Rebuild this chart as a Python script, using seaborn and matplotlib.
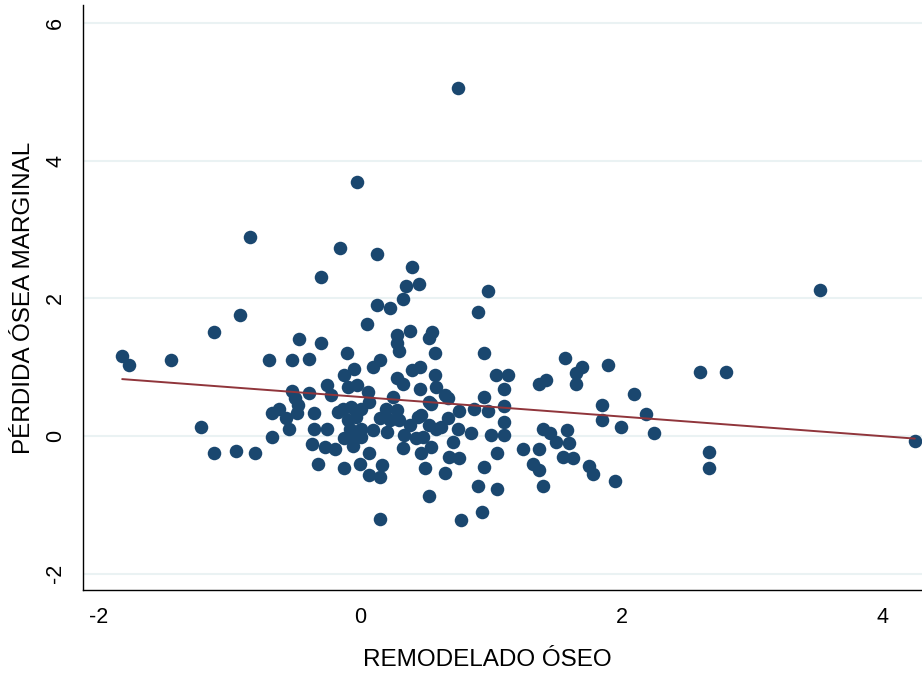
import matplotlib
matplotlib.use("Agg")
import matplotlib.pyplot as plt
import seaborn as sns
import pandas as pd

# valores
remodelado = [
    -0.845, -0.92, -1.12, -1.82, -1.77, -1.445, -0.70, -0.52, -0.47, -0.52,
    -0.50, -0.62, -0.675, -0.57, -0.48, -0.545, -1.22, -0.67, -1.12, -0.95,
    -0.80, -0.02, -0.15, 0.13, -0.30, 0.40, 0.35, 0.45, 0.33, 0.13,
    0.23, 0.05, 0.38, 0.28, 0.28, 0.30, 0.55, 0.53, 0.575, -0.30,
    -0.10, 0.15, -0.39, 0.10, -0.05, -0.12, 0.40, 0.455, 0.57, 0.28,
    0.33, 0.455, -0.25, -0.39, -0.22, -0.09, -0.02, 0.06, 0.07, 0.25,
    0.53, -0.475, -0.35, -0.17, -0.13, -0.07, 0.01, 0.20, 0.28, -0.09,
    -0.03, 0.15, 0.23, 0.30, 0.44, 0.38, 0.53, 0.58, -0.35, -0.25,
    -0.08, 0.01, 0.10, 0.21, -0.12, -0.04, 0.01, 0.34, 0.43, 0.48,
    -0.37, -0.27, -0.195, -0.055, 0.33, 0.47, 0.545, 0.07, -0.32, -0.12,
    0.00, 0.17, 0.07, 0.15, 0.50, 0.53, 0.155, 0.98, 0.90, 0.95,
    1.57, 1.04, 1.13, 1.37, 1.42, 0.58, 1.105, 0.65, 0.67, 0.95,
    0.545, 0.76, 0.875, 0.98, 1.105, 1.105, 0.47, 0.67, 0.62, 0.75,
    0.85, 1.00, 1.105, 1.40, 1.58, 1.45, 1.50, 0.71, 0.68, 0.76,
    1.05, 1.25, 1.37, 1.55, 1.32, 1.37, 0.65, 0.95, 0.90, 1.05,
    1.40, 0.93, 0.77, 1.70, 1.65, 1.65, 1.90, 2.60, 2.80, 2.10,
    1.85, 1.85, 2.00, 2.19, 2.25, 1.60, 1.63, 1.75, 1.78, 1.95,
    2.67, 2.67, 3.52, 4.245, 0.746,
]
perdida = [
    2.89, 1.76, 1.51, 1.17, 1.03, 1.105, 1.105, 1.105, 1.41, 0.66,
    0.55, 0.39, 0.33, 0.26, 0.34, 0.10, 0.13, -0.02, -0.25, -0.22,
    -0.25, 3.69, 2.73, 2.64, 2.31, 2.46, 2.18, 2.21, 1.99, 1.91,
    1.86, 1.63, 1.53, 1.47, 1.36, 1.24, 1.51, 1.43, 1.21, 1.36,
    1.21, 1.10, 1.12, 1.01, 0.98, 0.89, 0.96, 1.01, 0.89, 0.84,
    0.76, 0.68, 0.74, 0.62, 0.60, 0.72, 0.74, 0.64, 0.50, 0.57,
    0.50, 0.45, 0.33, 0.35, 0.40, 0.43, 0.40, 0.40, 0.38, 0.23,
    0.28, 0.26, 0.23, 0.23, 0.28, 0.16, 0.16, 0.11, 0.11, 0.11,
    0.11, 0.11, 0.09, 0.06, -0.03, -0.03, -0.01, 0.01, -0.03, -0.01,
    -0.12, -0.16, -0.19, -0.15, -0.17, -0.25, -0.16, -0.25, -0.40, -0.47,
    -0.40, -0.42, -0.57, -0.60, -0.47, -0.87, -1.21, 2.11, 1.81, 1.21,
    1.13, 0.89, 0.89, 0.76, 0.81, 0.72, 0.68, 0.60, 0.55, 0.57,
    0.47, 0.37, 0.40, 0.37, 0.44, 0.21, 0.31, 0.26, 0.135, 0.10,
    0.04, 0.02, 0.01, 0.11, 0.09, 0.04, -0.08, -0.08, -0.30, -0.32,
    -0.24, -0.19, -0.19, -0.30, -0.40, -0.49, -0.54, -0.45, -0.73, -0.77,
    -0.73, -1.10, -1.22, 1.01, 0.91, 0.76, 1.03, 0.93, 0.93, 0.61,
    0.45, 0.24, 0.13, 0.32, 0.05, -0.10, -0.32, -0.44, -0.55, -0.65,
    -0.23, -0.47, 2.13, -0.07, 5.06,
]

df = pd.DataFrame({"remodelado": remodelado, "perdida": perdida})

sns.set_style("white")
plt.rcParams["font.family"] = ["Liberation Sans", "DejaVu Sans"]
plt.rcParams["axes.unicode_minus"] = False
plt.rcParams["text.color"] = "black"
plt.rcParams["axes.labelcolor"] = "black"
plt.rcParams["xtick.color"] = "black"
plt.rcParams["ytick.color"] = "black"

fig = plt.figure(figsize=(9.22, 6.73), dpi=100)
ax = fig.add_axes([0.09, 0.123, 0.91, 0.870])

sns.regplot(data=df, x="remodelado", y="perdida", ci=None, ax=ax,
            scatter_kws={"s": 95, "color": "#1a476f", "alpha": 1, "linewidths": 0},
            line_kws={"color": "#90353b", "lw": 1.4})

ax.set_xlim(-2.12, 4.30)
ax.set_ylim(-2.24, 6.27)
ax.set_xticks([-2, 0, 2, 4])
ax.set_yticks([-2, 0, 2, 4, 6])
ax.grid(axis="y", color="#eaf2f3", lw=1.5)
ax.set_axisbelow(True)

for s in ["top", "right"]:
    ax.spines[s].set_visible(False)
for s in ["left", "bottom"]:
    ax.spines[s].set_color("black")
    ax.spines[s].set_linewidth(1.0)

ax.tick_params(axis="both", direction="out", length=6, width=1, color="black",
               labelsize=15.5, pad=6)
for lab in ax.get_yticklabels():
    lab.set_rotation(90)
    lab.set_va("center")

ax.set_xlabel("REMODELADO ÓSEO", fontsize=17.5)
ax.set_ylabel("PÉRDIDA ÓSEA MARGINAL", fontsize=17.5)
ax.xaxis.set_label_coords(0.4815, -0.10)
ax.yaxis.set_label_coords(-0.057, 0.5)

fig.savefig("out.png", dpi=100)
